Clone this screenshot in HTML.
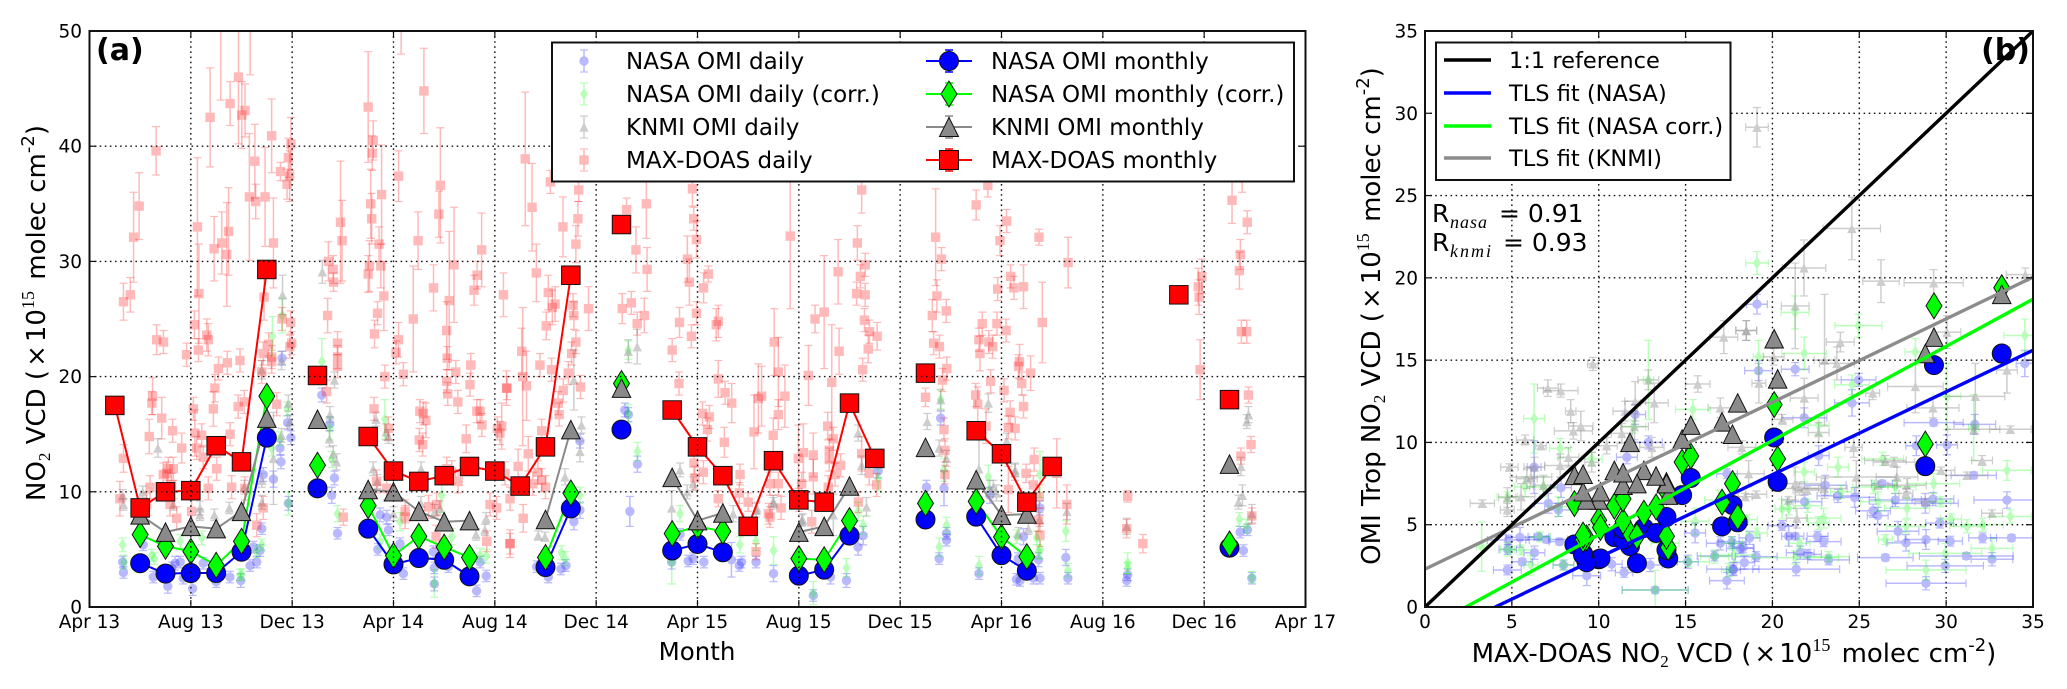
<!DOCTYPE html>
<html lang="en">
<head>
<meta charset="utf-8">
<title>NO2 VCD time series and scatter comparison</title>
<style>
html,body{margin:0;padding:0;background:#fff;}
svg{display:block;}
text{font-family:"DejaVu Sans","Liberation Sans",sans-serif;fill:#000;}
.serif{font-family:"Liberation Serif",serif;}
</style>
</head>
<body>
<svg id="figure" xmlns="http://www.w3.org/2000/svg" width="2067" height="689" viewBox="0 0 2067 689">
  <defs>
    <clipPath id="clipA"><rect x="89.5" y="31" width="1216" height="576"/></clipPath>
    <clipPath id="clipB"><rect x="1425" y="31" width="608" height="576"/></clipPath>
  </defs>
  <g id="panelA"></g>
  <g id="panelB"></g>

  <text x="96" y="60" font-size="30" font-weight="bold">(a)</text>
  <text x="2030" y="60" font-size="30" font-weight="bold" text-anchor="end">(b)</text>

  <text transform="translate(45,313) rotate(-90)" font-size="26" text-anchor="middle">NO<tspan class="serif" font-size="17" dy="5">2</tspan><tspan dy="-5"> VCD (</tspan><tspan dx="3">×</tspan><tspan dx="3">10</tspan><tspan class="serif" font-size="18" dy="-11">15</tspan><tspan dy="11" dx="3"> molec cm</tspan><tspan font-size="18" dy="-11">-2</tspan><tspan dy="11">)</tspan></text>
  <text x="697" y="660" font-size="24.5" text-anchor="middle">Month</text>
  <text transform="translate(1380,316) rotate(-90)" font-size="26" text-anchor="middle">OMI Trop NO<tspan class="serif" font-size="17" dy="5">2</tspan><tspan dy="-5"> VCD (</tspan><tspan dx="3">×</tspan><tspan dx="3">10</tspan><tspan class="serif" font-size="18" dy="-11">15</tspan><tspan dy="11" dx="3"> molec cm</tspan><tspan font-size="18" dy="-11">-2</tspan><tspan dy="11">)</tspan></text>
  <text x="1734" y="662" font-size="26" text-anchor="middle">MAX-DOAS NO<tspan class="serif" font-size="17" dy="5">2</tspan><tspan dy="-5"> VCD (</tspan><tspan dx="3">×</tspan><tspan dx="3">10</tspan><tspan class="serif" font-size="18" dy="-11">15</tspan><tspan dy="11" dx="3"> molec cm</tspan><tspan font-size="18" dy="-11">-2</tspan><tspan dy="11">)</tspan></text>

  <g>
    <text x="1432" y="222" font-size="25">R</text>
    <text class="serif" x="1450" y="228" font-size="18" font-style="italic" textLength="37">nasa</text>
    <text x="1499" y="222" font-size="25">= 0.91</text>
    <text x="1432" y="251" font-size="25">R</text>
    <text class="serif" x="1450" y="257" font-size="18" font-style="italic" textLength="41">knmi</text>
    <text x="1503" y="251" font-size="25">= 0.93</text>
  </g>

  <g id="legendA">
    <rect x="552" y="42.5" width="742" height="139" fill="#fff" stroke="#111" stroke-width="2"/>
    <g id="legendAHandles"></g>
    <g font-size="23">
      <text x="626" y="69">NASA OMI daily</text>
      <text x="626" y="102">NASA OMI daily (corr.)</text>
      <text x="626" y="135">KNMI OMI daily</text>
      <text x="626" y="168">MAX-DOAS daily</text>
      <text x="991" y="69">NASA OMI monthly</text>
      <text x="991" y="102">NASA OMI monthly (corr.)</text>
      <text x="991" y="135">KNMI OMI monthly</text>
      <text x="991" y="168">MAX-DOAS monthly</text>
    </g>
  </g>

  <g id="legendB">
    <rect x="1436" y="42.5" width="294.5" height="137.5" fill="#fff" stroke="#111" stroke-width="2"/>
    <line x1="1444" x2="1491" y1="60" y2="60" stroke="#000" stroke-width="3.4"/>
    <line x1="1444" x2="1491" y1="93" y2="93" stroke="#0000ff" stroke-width="3.4"/>
    <line x1="1444" x2="1491" y1="126" y2="126" stroke="#00ff00" stroke-width="3.4"/>
    <line x1="1444" x2="1491" y1="158" y2="158" stroke="#8c8c8c" stroke-width="3.4"/>
    <g font-size="22.5">
      <text x="1509" y="68">1:1 reference</text>
      <text x="1509" y="101">TLS fit (NASA)</text>
      <text x="1509" y="134">TLS fit (NASA corr.)</text>
      <text x="1509" y="166">TLS fit (KNMI)</text>
    </g>
  </g>
</svg>

<script>
// ---------- shared axis ticks ----------
const monthTicks = [0, 4, 8, 12, 16, 20, 24, 28, 32, 36, 40, 44, 48];
const monthTickLabels = ["Apr 13", "Aug 13", "Dec 13", "Apr 14", "Aug 14", "Dec 14", "Apr 15", "Aug 15", "Dec 15", "Apr 16", "Aug 16", "Dec 16", "Apr 17"];
const vcdTicksA = [0, 10, 20, 30, 40, 50];
const vcdTicksB = [0, 5, 10, 15, 20, 25, 30, 35];

// ---------- monthly means; months counted from Apr 2013 ----------
const months = [1,2,3,4,5,6,7,8,9,10,11,12,13,14,15,16,17,18,19,20,21,22,23,24,25,26,27,28,29,30,31,32,33,34,35,36,37,38,39,40,41,42,43,44,45];
const maxdoasMonthly = [17.5,8.6,10.0,10.1,14.0,12.6,29.3,null,20.1,null,14.8,11.8,10.9,11.4,12.2,11.8,10.5,13.9,28.8,null,33.2,null,17.1,13.9,11.4,7.0,12.7,9.3,9.1,17.7,12.9,null,20.3,null,15.3,13.3,9.1,12.2,null,null,null,null,27.1,null,18.0];
const nasaMonthly = [null,3.8,2.9,2.95,2.95,4.8,14.7,null,10.3,null,6.8,3.7,4.25,4.1,2.66,null,null,3.47,8.56,null,15.4,null,4.9,5.47,4.75,null,null,2.72,3.24,6.2,null,null,7.6,null,7.84,4.5,3.15,null,null,null,null,null,null,null,5.15];
const nasaCorrMonthly = [null,6.28,5.27,4.83,3.62,5.7,18.3,null,12.3,null,8.8,4.46,6.13,5.2,4.3,null,null,4.3,9.9,null,19.4,null,6.37,7.0,6.57,null,null,4.2,4.1,7.5,null,null,9.0,null,9.17,6.08,4.37,null,null,null,null,null,null,null,5.47];
const knmiMonthly = [null,8.0,6.5,7.0,6.8,8.3,16.4,null,16.3,null,10.2,10.0,8.3,7.4,7.5,null,null,7.6,15.4,null,19.0,null,11.25,7.5,8.16,null,null,6.5,7.0,10.5,null,null,13.86,null,11.05,7.96,8.07,null,null,null,null,null,null,null,12.4];

// ---------- daily values, panel a: [month, value, error] ----------
const maxdoasDaily = [
[1.34,26.5,1.6],[1.61,27.1,1.5],[1.74,32.1,3.9],[1.96,34.8,2.9],[2.63,39.6,2.1],[4.76,42.5,4.3],[5.55,43.7,1.9],[5.88,46.0,5.8],[6.01,42.7,2.9],[6.14,43.1,2.3],[6.53,38.7,3.2],[7.19,40.9,3.2],[7.95,40.2,2.3],[7.85,39.0,1.7],[7.54,37.8,0.8],[7.9,37.4,2.2],[7.8,36.7,1.3],[5.18,53,9],[6.34,53,6.8],[6.31,35.6,5.5],[6.56,35.2,1.5],[6.93,35.6,4.3],[4.26,33.0,6],[5.49,32.6,3.8],[5.22,31.6,2.7],[4.92,31.1,2.8],[5.42,30.6,4.5],[7.26,31.6,3.9],[4.32,27.2,4.3],[4.14,24.5,1.2],[4.63,23.6,1.4],[4.69,23.2,1.4],[2.65,23.2,1.3],[2.92,23.0,1],[6.89,26.9,2],[7.6,25,1],[7.94,24.7,1],[7.98,22.9,1],[7.07,22.8,1],
[9.43,30,1.7],[9.62,29.3,1.2],[9.63,28.2,0.8],[9.4,25.3,1.5],[9.91,33.4,5.3],[9.97,31.8,3.5],[9.79,22.9,1],[11.0,43.4,4.8],[11.2,40.5,1.7],[11.16,39.4,1.5],[11.1,35.0,3],[11.14,33.7,2.2],[11.53,35.8,4.3],[11.43,31.5,1.5],[11.5,29.6,1.9],[11.05,29.6,2.2],[11.0,28.9,1.6],[11.62,27,3],[11.37,25.5,1],[11.25,23.7,1.2],
[12.2,37.4,2.2],[12.3,53,5],[13.2,44.8,3.7],[13.85,36.6,5],[13.79,34.1,2],[12.97,31.8,2.5],[15.48,31,3.2],[15.3,28.8,1.2],[15.18,27.5,1.3],[14.39,29.7,5],[14.2,26.6,6],[13.58,27.7,2],[12.78,25,4.6],[12.2,23.2,1.5],[16.34,27.1,1.9],
[17.2,38.9,5.8],[17.47,34.7,3.8],[18.19,36.9,1],[17.64,29,2.5],[18.69,33,2.6],[19.31,36.2,1],[19.28,33.7,1.5],[19.2,31.5,1.6],[18.11,27.3,1.5],[18.38,26.3,1.5],[18.27,26,1.5],[18.03,24.4,1.2],[19.09,26.2,1],[19.12,25.3,1.2],[19.7,25.9,1.9],[19.2,23,1],[17.1,20,6],[14.1,24,2.5],
[21.2,34.5,1],[21.98,35,3],[21.57,31,2],[21.39,26.4,1],[22.01,29.3,1.9],[21.03,25.9,1.3],[21.9,25.3,1.5],[21.62,24.6,1],
[23.8,36.3,1.5],[23.85,33.7,1],[23.96,31.9,1.6],[23.6,30.2,2],[23.68,28.2,2],[24.43,28.9,0.7],[24.24,27.7,1.3],[23.96,25.5,1],[23.29,24.7,1.3],[24.82,24.8,1.4],[24.74,24.5,1.4],[23.76,23.5,1],[27.66,32.2,6.3],[27.03,23,2.9],
[28.64,25,1.2],[29,25.6,4.9],[29.55,29.1,2.8],[30.31,31.6,1.5],[30.48,36.2,2],[30.62,29.7,1],[30.43,28.7,1],[30.28,27.2,1],[30.62,27.1,1],[30.59,24.9,1],[30.79,23.9,1],[31.09,23.5,1.2],
[33.4,32.1,4.2],[33.63,30.2,1],[33.45,27,1.4],[33.27,25.3,1.4],[33.82,25.7,1],[33.32,22.9,1],[35,34.9,1.3],[35.46,36.6,1],[36.2,33.5,1],[35.94,31.8,1.3],[36.36,28.7,1],[35.85,27.6,1],[36.49,27.7,1],[35.24,24.6,1],[35.82,24.6,1],[36.18,24,1],[35.11,23.2,1],[35.5,23,1],
[36.87,27.8,1.9],[37.61,24.7,3.5],[38.63,29.9,2.2],[37.48,32.1,0.7],[45.1,35.3,2],[45.5,40,4],[45.7,33.4,1],[45.43,30.6,1.3],[45.39,29.2,1.6],[43.91,28.7,1.5],[43.77,27.8,1.6],[43.8,26.9,1.5],[45.47,23.9,1],[45.68,23.9,1],
[24.82,19.8,1.6],[25.09,18.6,1],[25.35,17.7,1.7],[24.2,16.8,1],[24.47,16.5,1],[24.39,15.4,1],[25.06,14.3,1.3],[23.86,12.5,1],[24.23,11.7,1],[23.9,11.2,1],[25.68,11.5,0.9],[25.65,9.9,0.9],[24.82,9.4,0.7],[26,9.1,0.8],[26.31,4.8,0.7],[26.53,18.3,2.6],[26.4,18.1,3],[26.23,15.2,3.2],[27.19,20.4,3],[27.45,18.3,2.7],[27.19,16.7,1.3],[26.99,14.9,1.5],[26.8,8.1,0.9],[26.86,7.8,0.9],[26.86,10.7,1],[27.19,10.7,1],[27.3,8.6,1],[28.38,20.1,2.6],[27.98,12.9,2.9],[28.18,13.4,2.5],[28.57,13.2,1.9],[28.57,11.3,1.5],[28.11,10.7,1],[28,9.3,1],[28.51,7.4,1],[29.59,22.2,2],[29.3,19.5,5],[29.14,15.7,1.2],[29.36,14.6,1],[29.2,13.6,1],[29.2,12.8,1],[29.65,12.3,1],[29.16,10.4,1],[29.43,11.5,1],[30.74,22.4,1.2],[30.52,20.6,1],[30.48,13.3,1.5],[30.78,11.6,1],[31.07,10.6,1],[30.35,9.1,0.9],
[33.55,22.6,1],[33.84,20.7,1],[33.67,19.7,1],[33,18.2,0.8],[33.73,15.4,1],[33.77,13.6,1],[33.77,11.5,0.8],[35.65,22.6,1],[35.15,22,1.5],[35.57,19.6,1],[34.98,18.4,1],[35.06,17.6,1.5],[35.39,15.7,1.5],
[36.71,21.3,1.5],[36.67,20.9,1],[37.15,20.3,1.5],[36.8,19.4,1],[36.1,18.8,1],[36.87,17.4,1],[36.34,16.9,1],[36.27,15.6,1],[36.54,15.5,1],[37.29,12.8,1],[36.97,11.6,0.8],[37.26,10.6,0.8],[38.18,11.6,3],[36.27,10.2,2],[38.58,8.9,1.7],[37.49,9.6,1],[37.52,6.25,1],[37.46,7.55,1],[40.98,9.6,0.5],[40.94,6.8,0.8],[41.58,5.5,0.8],[43.84,20.6,2.6],[45.75,18.4,0.7],[45.85,14.1,0.7],[45.45,13.1,0.7],[45.88,7.9,0.7],
[17.06,22.2,2],[17.78,21,1],[18.24,20.6,1],[16.46,19,1.5],[17.25,19.2,3],[19.03,22,1],[18.9,20.3,1],[18.7,18.8,1],[18.5,17.7,1],[18.54,16.7,1],[16.27,15.7,2],[17.85,15.3,1],[19.38,19.1,1],[17.32,13.3,1.5],[16.92,12.2,1.5],[16.4,11.6,1],[17.7,11.7,1],[17.5,10.7,1],[17.85,11,1],[18,10.4,1],[16.6,9.4,1],[17.12,7.7,1.2],[16.6,5.5,1.2],[23,22.3,1],[23.27,19.4,1],
[1.2,9.4,1.5],[1.34,12.9,1.2],[2.49,18.3,1.6],[2.46,17.7,1],[2.36,14.8,1.5],[2.85,16.4,1.8],[3.28,15.3,1],[3.83,21.9,1],[3.64,13.8,1.3],[4.3,22.3,1],[4.1,17.2,1],[4.16,15.1,2],[4.43,14.9,1],[4.49,13,1],[4.23,13.8,1],[4.89,17.2,1.5],[4.95,19,1.2],[5.09,20.7,1],[5.44,21.2,1],[5.94,21.4,1],[5.55,15,1],[5.87,17.4,1],[6.11,17.8,1],[5.02,12,1],[3.11,12,1],[3.31,12,1],[2.91,11.5,1],[3.05,11.6,1],[3.24,10.6,1],[2.39,10.4,1],[2.26,8.9,1],[3.18,8.9,1],[3.44,7.7,1],[4.03,8.3,1],[4.69,10.3,1],[5.61,10.4,1],[6.13,10.3,1],[6.6,7.1,1],[6.86,8.6,1],[6.8,20.4,1],[6.86,22,1],[7.19,21.7,1],[7.39,17.6,1],[7.19,21.3,1],[7.91,22.6,1],
[9.79,21.7,1],[9.79,20.9,1],[9.36,18.7,1],[10.02,7.8,0.7],[11.8,15.5,1],[11.66,20,1],[11.23,17.2,1],[12.1,22.1,1],[12.39,20.2,1],[12.46,7.8,1],[13.04,17,1],[13.18,16.8,1],[13.28,16.2,1.5],[13.02,14.5,1],[13.15,14.1,1],[14.12,21.6,1],[14.1,19.6,1],[14.14,18.5,1],[14.46,20.4,1],[14.54,17.8,1],[15.05,21,1],[15.02,19.3,1],[14.87,14.6,1.2],[15.29,17,1],[15.42,17,1],[15.49,15.8,1],[16.1,15.5,1],[16.48,19,1],[16.2,15.1,1],[15.81,8.9,1],[16.07,8.6,1],[15.68,5.7,0.9],[16.6,5.5,0.9],[13.68,6.1,1],[14.3,11.7,1],[14.55,10.9,1],[14.1,12,1],[13.7,8.9,1],[13.38,8.7,1],[12.46,8.3,1],[11.73,10.3,1],[11.33,10.9,1]
];
const nasaDaily = [
[1.34,3,0.5],[1.31,3.9,0.5],[3.09,1.8,0.6],[3.38,3.8,0.6],[3.58,3.9,0.5],[3.25,3.4,0.5],[4.07,1.6,0.6],[2.52,2.6,0.5],[2.12,5.4,0.5],[3.7,2.5,0.5],[4.49,3.8,0.5],[5,2.2,0.5],[5.54,2.6,0.5],[5.97,2.3,0.6],[6.34,3.6,0.5],[6.6,3.9,0.5],[6.73,4.9,0.5],[6.8,6.8,0.5],[6.47,5.2,0.5],[6.86,11.5,0.6],[7.26,11.1,0.7],[7.56,12.6,0.6],[7.52,13.8,0.6],[7.6,21.6,0.6],[7.82,16,0.6],[7.95,14.7,0.6],[7.85,9,0.6],
[9.17,18.4,0.6],[9.49,15.9,0.6],[9.56,9.7,0.7],[9.67,11.2,0.6],[9.79,6.4,0.5],[11.38,5,0.5],[11.47,8,0.6],[11.8,6.7,0.5],[11.73,7.8,0.6],[12.39,2.9,0.5],[12.26,5.5,0.5],[13.61,3.4,0.5],[13.61,2,0.6],[13.57,4.8,0.5],[14.16,3.5,0.5],[15.28,1.4,0.5],[15.42,3.9,0.5],[15.66,2.7,0.5],
[17.65,3.5,0.5],[18.11,2.6,0.5],[18.61,3.3,0.5],[18.81,3.6,0.5],[19.12,7.4,0.7],[19.36,8.4,0.7],[19.36,14.4,0.6],[21.13,17.1,0.6],[21.27,16.7,0.6],[21.63,12.4,0.7],[21.33,8.3,1.3],
[22.98,3.9,0.6],[23.31,6.3,0.5],[23.63,4,0.5],[23.83,4.2,0.5],[24.25,3.9,0.5],[25.34,4.1,1.5],[25.65,3.6,0.5],[25.74,3.9,0.5],[26.31,3.9,0.5],[27,2.9,0.7],[29.25,2.6,0.6],[29.88,2.3,0.6],[28.57,1,0.5],[30.34,5.2,0.7],[30.54,6.2,0.8],[31.13,11.8,0.6],
[33.04,10.4,0.6],[33.6,16.4,0.6],[33.73,10.3,1.5],[33.83,6.4,0.5],[33.83,5.8,0.5],[33.54,4.2,0.5],[35.11,2.9,0.5],[35.54,9.7,0.7],[36.59,2.4,0.5],[36.66,4.2,0.5],
[37.52,8.6,0.6],[37.46,4.1,0.6],[36.73,2.3,0.5],[37.26,2.5,0.5],[37.52,2.5,0.5],[36.87,6.1,0.7],[38.54,4.3,0.7],[38.62,2.5,0.5],[40.98,2.8,0.5],[40.94,2.3,0.5],[45.42,6.5,0.5],[45.55,4.9,0.5],[45.71,6.7,0.5],[45.88,2.5,0.5]
];
const nasaCorrDaily = [
[1.31,5.4,0.6],[1.36,3.9,0.6],[2.46,4.5,0.5],[2.56,4.2,0.5],[3.58,5.7,0.6],[4.43,6,0.6],[5.94,2.8,0.5],[6.01,2.8,0.5],[6.6,4.8,0.5],[6.8,5.4,0.5],[7.19,13.8,0.7],[7.22,23.5,1.7],[7.61,25.3,1.5],[7.81,17.2,0.6],[7.85,9,1],[7.52,14.6,0.6],
[9.17,21.3,2],[9.49,15.5,1],[9.56,12.8,0.7],[9.79,8.1,0.7],[11.66,16.3,1.7],[12.26,7.4,0.8],[11.47,5.7,0.6],[13.61,2.05,1.2],[13.9,9.7,1.5],[14.3,6.1,0.7],[15.42,4.5,0.6],[15.66,4.4,0.6],
[18.63,4.7,0.6],[18.77,4.2,0.6],[19.36,9.7,0.7],[21.27,16.8,0.8],[21.27,22.3,0.8],[21.63,13.5,0.8],[22.98,3.9,1.9],[23.31,8.1,0.7],[25.67,5.4,0.7],[26.31,5.7,0.8],[27,4.9,1.2],[29.88,3.4,0.8],[28.57,1.2,1],[30.34,8.3,0.8],[30.54,7.1,0.8],[31.13,11.2,1.1],
[33.6,18,0.8],[33.73,11.9,1],[33.83,7.1,0.7],[33.54,5.2,0.8],[35.11,3.6,0.8],[35.48,11.3,1],
[37.52,11.5,2],[37.52,5,0.8],[38.54,6.6,0.9],[38.62,3.2,0.6],[40.98,3.8,0.9],[40.98,3.4,0.5],[45.39,7.6,0.6],[45.68,7,0.6],[45.88,2.6,0.5],[37.39,6,0.6],[36.6,6.1,0.6],[37.46,4.8,0.6]
];
const knmiDaily = [
[1.34,8.9,0.5],[1.31,9.7,0.5],[2.1,10,0.5],[2.7,13.8,0.8],[3.31,8.9,0.5],[4.36,8.6,0.6],[4.36,8,0.5],[4.93,8,0.5],[5.52,8.6,0.5],[6.11,10.4,0.6],[6.8,9.1,0.6],[6.8,11,0.6],[6.8,20.6,0.8],[7.26,12.9,4],[7.58,14.9,0.6],[7.58,21.4,0.8],[7.62,27.1,1.7],[7.91,16.1,0.6],[7.85,17.7,0.7],[9.67,19.7,0.7],[9.19,29.1,1],[9.49,16.7,0.7],[9.47,14.6,0.7],[9.62,13.3,0.7],[9.75,12.6,0.7],[11.31,16.3,0.6],[11.2,12,0.6],[11.36,10.9,0.6],[11.71,15.2,0.7],[11.8,14.8,0.6],[12,8.1,0.6],[13.09,12,0.6],[13.08,9,0.6],[13.63,8.3,0.6],[13.83,8.6,0.6],[15.26,6.3,0.5],[15.61,6.7,0.5],[15.66,7.7,0.5],
[19.12,19.7,2.6],[19.42,15.8,0.7],[19.36,13.5,0.9],[18.77,11.3,0.7],[17.71,6.2,0.4],[17.98,6.1,0.4],[21.27,22.2,1],[21.62,22.6,1.5],[23.31,11.9,0.6],[22.98,8.6,1.5],[23.83,10.7,0.6],[23.59,10,0.6],[25.41,8.1,0.7],[26.31,8.4,0.6],[27,9,0.5],[28.11,7.5,0.5],[29.36,8,1.8],[30.34,15.1,0.7],[30.48,12.3,0.8],[30.67,8.7,0.8],
[33.07,16.1,0.7],[33.6,18,0.9],[33.83,12.9,0.7],[33.54,13.8,0.7],[35.48,17.7,0.8],[35.11,12,2.5],[35.54,10.3,0.7],[35.8,9.9,0.7],[36.53,11.7,0.7],
[26.99,9.2,0.5],[26.34,8.6,0.5],[28.15,7.6,0.5],[36.2,14.4,0.7],[36.54,11.9,0.6],[35.68,10.4,0.6],[37.06,6.8,0.5],[36.67,6.4,0.5],[37.5,7.6,0.6],[38.58,8.3,0.7],[40.94,7,0.7],[45.75,16.7,0.7],[45.68,16.1,0.6],[45.45,12.2,0.8],[45.51,9.7,0.9],[45.35,9.1,0.6],[45.88,8.1,0.8]
];

// ---------- daily scatter, panel b: [maxdoas, omi, xError, yError] ----------
const knmiScatter = [
[26.25,19.8,1.05,1.3],[29.28,19.7,1.7,0.8],[34.56,20.2,1.1,0.4],[21.31,18.3,0.8,2.6],[18.49,16.8,0.6,0.6],[23.91,16.1,0.8,0.6],[23.71,14.8,1,1],[23,15,0.6,4],[20.07,15.2,0.6,0.5],[19.22,13.6,0.4,1.2],[21.83,12.7,0.8,1.2],[25.77,13,0.4,0.4],[28.23,13.4,1.6,1.6],[30.05,16.7,0.8,1],[31.68,12.8,1.7,2],[33.5,14.4,0.6,1.4],[29.24,12.1,1.5,0.6],[22.66,10.6,0.6,0.6],[33.7,10.8,1.2,0.2],[31.59,10.8,1.5,0.3],[20.58,11.4,0.6,0.3],[24.67,9.7,0.5,0.6],[26.5,8.9,1.2,0.3],[27,8.8,1.2,0.3],[32.07,8.9,0.6,0.3],[24.83,7.9,2.3,1],[18.63,8.1,0.9,0.8],[27.17,7.9,1.2,0.6],[29.7,8.3,0.8,0.2],[31.2,8,1.2,0.2],[27.75,7.4,1.1,0.4],[26.08,7.4,1.1,0.2],[21.31,7.5,1.5,1],[21.56,7.2,1.1,0.4],[21.99,7.1,0.8,0.2],[23,7.2,1.3,0.6],[19.07,6.85,0.6,0.2],[20.93,6.5,0.4,0.2],[27.69,6.9,0.4,0.3],[28.8,6.4,0.6,0.2],[32.64,5.7,0.6,0.2],[21.41,5.4,0.6,0.6],[18.43,6.7,0.4,0.2],
[19.11,29.15,0.65,1.2],[24.57,23,1.65,1.9],[21.82,20.6,1.25,1.7],[17.2,16.4,0.8,1],[18.5,16.8,0.6,0.6],
[9.66,14.77,0.3,0.4],[7.07,13.3,0.6,0.5],[7.81,13.15,1,0.4],[8.39,11.9,0.3,0.7],[8.54,10.7,1.1,0.5],[8.97,11,0.7,0.9],[5.76,10.15,0.5,0.3],[6.68,9.8,0.3,0.2],[8.26,9.1,0.6,0.6],[4.86,8.5,0.5,0.2],[7.78,8.6,0.9,0.7],[6.3,8.5,0.6,0.6],[6.1,7.9,1.2,0.6],[5.86,7.8,0.6,0.6],[6.82,7.4,0.6,0.6],[5.53,6.7,0.8,0.8],[4.74,6.65,0.5,0.6],[3.3,6.3,0.7,0.2],[4.74,5.9,0.4,0.4],[9.6,8.8,0.4,0.6],[12.1,12.5,0.6,1.2],[11.52,11.9,0.7,0.6],[13.2,12.4,0.8,1.2],[12.86,13.8,0.6,0.6],[15.7,13.55,0.7,0.5],[11.33,10.55,0.6,0.6],[12.06,10.96,0.8,0.8],[10.46,9.8,0.6,0.5],[13.06,9.7,0.7,0.6],[17,12.1,0.7,0.6],[18.24,9.7,0.8,0.4]
];
const nasaScatter = [
[19.11,18.4,0.6,0.6],[21.31,14.45,0.8,0.4],[19.2,14.36,0.8,0.6],[24.96,13.8,1,0.4],[24.58,12.4,1,0.8],[21.83,11.5,1.3,0.6],[22.66,9.2,0.6,0.6],[29.28,11.2,1.7,0.2],[31.65,11.1,1.2,0.6],[34.53,14.8,0.5,0.8],[28.28,9.8,0.6,0.6],[30.05,9.85,0.6,0.6],[23.04,7.4,1.2,0.6],[21.85,6.4,1,0.4],[23.77,6.75,1.2,0.4],[24.73,6.66,1.2,0.6],[26.31,7.5,0.6,0.2],[27.07,6.5,1.5,0.4],[28.8,6.3,1.9,0.6],[29.24,6.56,1.2,0.4],[31.59,8,1.3,0.2],[33.5,6.5,1.9,0.5],[25.79,5.85,1,0.4],[26.06,5.55,0.6,0.5],[20.55,4.95,0.8,0.3],[27.23,4.6,1.2,0.6],[29.63,5.1,0.8,0.3],[28.84,4.1,1.2,0.6],[27.69,3.9,1.1,0.5],[30.24,4,0.7,0.3],[32.1,4.2,0.8,0.3],[33.76,4.2,1.2,0.2],[20.93,4.3,0.4,0.6],[21.31,4.3,0.5,0.2],[22.6,4.3,0.6,0.3],[22.95,3.97,1,0.3],[21.6,3.3,0.8,0.4],[22.02,3.2,0.8,0.3],[23.23,2.86,1.2,0.3],[26.5,3,1.6,0.2],[31.16,3.1,2.7,0.2],[32.64,2.9,1.2,0.4],[29.95,2.5,2.2,0.4],[21.37,2.3,2.5,0.4],[28.84,1.44,2.3,0.4],[19.07,3.06,1.2,0.3],[18.38,2.7,0.6,0.4],[18.3,3.6,0.6,0.3],[17.72,2.3,1.5,0.4],[18.68,4.2,0.6,0.4],
[6.28,8.5,0.4,1.6],[12.1,11.7,0.6,0.6],[11.62,9.1,0.6,0.4],[12.86,10,0.8,0.4],[7.83,7.25,0.6,0.6],[7.1,6.3,0.8,0.6],[7.68,5.9,0.8,0.4],[4.8,4.07,1.2,0.3],[5.47,4.23,0.8,0.6],[6.53,4.27,0.6,0.2],[7,4.1,1.2,0.2],[7.74,3.97,0.6,0.2],[4.76,3.5,0.5,0.3],[6.3,3.3,0.6,0.4],[5.6,2.75,0.6,0.2],[4.74,2.25,0.8,0.3],[7.97,2.55,0.6,0.3],[9.31,1.9,0.8,0.6],[10.75,2.6,0.6,0.4],[11.46,2.1,0.5,0.3],[12.96,2.55,0.7,0.4],[15.13,2.75,0.6,0.4],[17.38,1.6,1,0.5],[16.67,3.1,1,0.3],[17,3.87,0.8,0.4],[17.67,3.97,0.8,0.3],[15.55,4.5,0.6,0.6],[18.15,3.56,0.8,0.3],[17.76,2.25,0.4,0.3],[13.25,1.03,1.9,0.2],[17.38,8.1,0.6,0.3]
];
const nasaCorrScatter = [
[19.11,20.9,0.65,0.7],[21.3,17.9,0.8,1],[24.95,17.1,1.35,0.7],[21.83,15.4,1.3,1],[19.2,15.2,0.3,1],[24.58,13.5,1,0.6],[28.23,15.5,0.6,0.8],[31.59,10.9,0.3,2],[34.53,16.5,1.2,1],[22.66,11.05,0.6,0.6],[30.05,12.8,0.8,2],[23.77,8.5,0.6,0.6],[21.83,8.2,0.6,0.6],[26.35,9,1.2,0.4],[33.5,8.3,1.4,0.6],[29.28,7.5,1.5,0.6],[27.07,7.3,1.2,0.4],[25.83,7.3,1.2,0.4],[23.95,7,0.6,0.4],[26.08,6.4,1,0.6],[27.75,6,1.3,0.6],[29.67,6.4,0.6,0.3],[20.55,5.95,0.4,0.6],[20.93,6,0.4,0.4],[22.02,6.15,0.8,0.4],[22.95,5.4,1,0.6],[22.66,5.1,0.6,0.4],[30.28,5.35,0.6,0.3],[31.2,4.9,1,0.4],[32.1,5,1.2,0.4],[33.7,5.5,1.2,0.4],[27.69,4.9,1.1,0.4],[26.5,4.1,0.4,0.3],[21.56,3.87,0.6,0.3],[21.31,3,2.5,0.4],[32.64,3.56,1.2,0.6],[29.95,3.26,2.1,0.6],[23.23,3.06,1.2,0.3],[28.84,2.25,2.3,0.6],[19.1,4.5,0.6,0.3],[18.53,5.3,0.6,0.3],[17.8,3.16,1.2,0.4],
[6.28,11.45,0.6,2.1],[12.86,13.8,0.3,2.4],[15.42,12,1,0.6],[7.78,9.64,0.6,0.6],[12,10.96,0.7,0.4],[9.6,9,0.6,0.4],[6.82,7.3,0.8,0.6],[5.76,7.3,0.6,0.6],[4.74,6.7,0.6,0.3],[7.68,6.1,0.6,0.6],[3.26,3.67,0.3,1.5],[4.74,3.5,0.4,0.4],[5.53,3.46,0.6,0.3],[6.62,4.27,0.6,0.3],[6.1,2.55,0.4,0.6],[7.97,2.55,0.6,0.3],[9.6,4.9,0.6,0.3],[13.25,1.03,1.9,1.2],[15.17,2.75,1.2,0.3],[15.55,5.2,0.8,0.8],[16.67,3.06,0.8,0.4],[16.9,6.5,0.8,0.6],[17.67,3.87,0.6,0.4],[11.52,4.07,0.6,0.4],[13.82,3.87,0.8,0.4],[17.47,2.25,0.4,0.4]
];

// ---------- TLS fits, panel b: y = slope * x + intercept ----------
const fitNames = ["reference", "tls-nasa", "tls-nasa-corr", "tls-knmi"];
const fitSlopes = [1, 0.504, 0.573, 0.507];
const fitIntercepts = [0, -2.04, -1.35, 2.3];

// ---------- axis functions ----------
const xA = m => 89.5 + m * (1216 / 48);
const yA = v => 607 - v * (576 / 50);
const xB = v => 1425 + v * (608 / 35);
const yB = v => 607 - v * (576 / 35);

const NS = "http://www.w3.org/2000/svg";
const BLUE = "#0000ff", GREEN = "#00ff00", GRAY = "#8a8a8a", RED = "#ff0000";
const panelA = document.getElementById("panelA");
const panelB = document.getElementById("panelB");
const legendHandles = document.getElementById("legendAHandles");

function make(tag, parent) {
  const el = document.createElementNS(NS, tag);
  parent.appendChild(el);
  return el;
}
function segment(parent, x1, y1, x2, y2, color, width) {
  const el = make("line", parent);
  el.setAttribute("x1", x1); el.setAttribute("y1", y1);
  el.setAttribute("x2", x2); el.setAttribute("y2", y2);
  el.setAttribute("stroke", color); el.setAttribute("stroke-width", width);
  return el;
}
function marker(parent, kind, cx, cy, s, fill, edge) {
  let el;
  if (kind === "circle") {
    el = make("circle", parent);
    el.setAttribute("cx", cx); el.setAttribute("cy", cy); el.setAttribute("r", s / 2);
  } else if (kind === "square") {
    el = make("rect", parent);
    el.setAttribute("x", cx - s / 2); el.setAttribute("y", cy - s / 2);
    el.setAttribute("width", s); el.setAttribute("height", s);
  } else if (kind === "diamond") {
    el = make("polygon", parent);
    const w = s * 0.42, h = s * 0.68;
    el.setAttribute("points", `${cx},${cy - h} ${cx + w},${cy} ${cx},${cy + h} ${cx - w},${cy}`);
  } else {
    el = make("polygon", parent);
    const w = s * 0.5, h = s * 0.5;
    el.setAttribute("points", `${cx},${cy - h} ${cx + w},${cy + h} ${cx - w},${cy + h}`);
  }
  el.setAttribute("fill", fill);
  if (edge) { el.setAttribute("stroke", edge); el.setAttribute("stroke-width", 1); }
  return el;
}
function errorGlyph(parent, kind, color, px, py, hx, hy) {
  const g = make("g", parent);
  g.setAttribute("opacity", kind === "triangle" ? "0.42" : "0.27");
  if (hy > 0) {
    segment(g, px, py - hy, px, py + hy, color, 1.5);
    segment(g, px - 4, py - hy, px + 4, py - hy, color, 1.2);
    segment(g, px - 4, py + hy, px + 4, py + hy, color, 1.2);
  }
  if (hx > 0) {
    segment(g, px - hx, py, px + hx, py, color, 1.5);
    segment(g, px - hx, py - 4, px - hx, py + 4, color, 1.2);
    segment(g, px + hx, py - 4, px + hx, py + 4, color, 1.2);
  }
  marker(g, kind, px, py, 9.4, color, null);
  return g;
}
function seriesLine(parent, xs, ys, xf, yf, color) {
  let d = "", open = false;
  xs.forEach((x, i) => {
    const v = ys[i];
    if (v === null) { open = false; return; }
    d += (open ? "L" : "M") + xf(x) + " " + yf(v) + " ";
    open = true;
  });
  const p = make("path", parent);
  p.setAttribute("d", d);
  p.setAttribute("fill", "none");
  p.setAttribute("stroke", color);
  p.setAttribute("stroke-width", 2);
  return p;
}
function gridAndTicks(parent, left, right, top, bottom, xTicks, yTicks, xf, yf, showGrid) {
  const grid = make("g", parent);
  
  
  if (showGrid) {
    xTicks.forEach(t => {
      const gl = segment(grid, xf(t), top, xf(t), bottom, "#111", 1.4);
      gl.setAttribute("stroke-dasharray", "1.6 3.5");
    });
    yTicks.forEach(t => {
      const gl = segment(grid, left, yf(t), right, yf(t), "#111", 1.4);
      gl.setAttribute("stroke-dasharray", "1.6 3.5");
    });
  }
  return grid;
}
function frame(parent, left, right, top, bottom, xTicks, yTicks, xf, yf) {
  const ticks = make("g", parent);
  
  
  xTicks.forEach(t => {
    segment(ticks, xf(t), bottom, xf(t), bottom - 7, "#111", 1.2);
    segment(ticks, xf(t), top, xf(t), top + 7, "#111", 1.2);
  });
  yTicks.forEach(t => {
    segment(ticks, left, yf(t), left + 7, yf(t), "#111", 1.2);
    segment(ticks, right, yf(t), right - 7, yf(t), "#111", 1.2);
  });
  const box = make("rect", parent);
  
  
  box.setAttribute("x", left); box.setAttribute("y", top);
  box.setAttribute("width", right - left); box.setAttribute("height", bottom - top);
  box.setAttribute("fill", "none"); box.setAttribute("stroke", "#111"); box.setAttribute("stroke-width", 2);
}
function tickText(parent, x, y, anchor, str) {
  const t = make("text", parent);
  t.setAttribute("x", x); t.setAttribute("y", y);
  t.setAttribute("text-anchor", anchor);
  t.setAttribute("font-size", "18.5");
  t.textContent = str;
  return t;
}

// ---------- panel a ----------
const plotA = make("g", panelA);
plotA.setAttribute("clip-path", "url(#clipA)");



const dailyLayers = [
  [nasaDaily, "circle", BLUE, "nasa-daily-point"],
  [nasaCorrDaily, "diamond", GREEN, "nasa-corr-daily-point"],
  [knmiDaily, "triangle", GRAY, "knmi-daily-point"],
  [maxdoasDaily, "square", RED, "maxdoas-daily-point"]
];
dailyLayers.forEach(layer => {
  layer[0].forEach(pt => {
    const px = xA(pt[0]), py = yA(pt[1]), hy = pt[2] * (576 / 50);
    const g = errorGlyph(plotA, layer[1], layer[2], px, py, 0, hy);
    
    
  });
});

const monthlyLayers = [
  [nasaMonthly, "circle", BLUE, 19, "nasa-monthly"],
  [nasaCorrMonthly, "diamond", GREEN, 19, "nasa-corr-monthly"],
  [knmiMonthly, "triangle", GRAY, 18.5, "knmi-monthly"],
  [maxdoasMonthly, "square", RED, 18.5, "maxdoas-monthly"]
];
monthlyLayers.forEach(layer => {
  const line = seriesLine(plotA, months, layer[0], xA, yA, layer[2]);
  
  
});
monthlyLayers.forEach(layer => {
  months.forEach((m, i) => {
    const v = layer[0][i];
    if (v === null) return;
    const mk = marker(plotA, layer[1], xA(m), yA(v), layer[3], layer[2], "#111");
    
    
  });
});

gridAndTicks(panelA, 89.5, 1305.5, 31, 607, monthTicks, vcdTicksA, xA, yA, true);
frame(panelA, 89.5, 1305.5, 31, 607, monthTicks, vcdTicksA, xA, yA);

monthTicks.forEach((t, i) => {
  const lb = tickText(panelA, xA(t), 628, "middle", monthTickLabels[i]);
  
  
});
vcdTicksA.forEach(t => {
  const lb = tickText(panelA, 82, yA(t) + 6.5, "end", String(t));
  
  
});

// ---------- panel b ----------
const plotB = make("g", panelB);
plotB.setAttribute("clip-path", "url(#clipB)");



const scatterLayers = [
  [nasaScatter, "circle", BLUE, "nasa-scatter-point"],
  [nasaCorrScatter, "diamond", GREEN, "nasa-corr-scatter-point"],
  [knmiScatter, "triangle", GRAY, "knmi-scatter-point"]
];
scatterLayers.forEach(layer => {
  layer[0].forEach(pt => {
    const hx = pt[2] * (608 / 35), hy = pt[3] * (576 / 35);
    const g = errorGlyph(plotB, layer[1], layer[2], xB(pt[0]), yB(pt[1]), hx, hy);
    
    
  });
});

gridAndTicks(plotB, 1425, 2033, 31, 607, vcdTicksB, vcdTicksB, xB, yB, true);

[[nasaMonthly, "circle", BLUE, 19, "nasa-monthly-scatter"],
 [nasaCorrMonthly, "diamond", GREEN, 19, "nasa-corr-monthly-scatter"],
 [knmiMonthly, "triangle", GRAY, 18.5, "knmi-monthly-scatter"]].forEach(layer => {
  months.forEach((m, i) => {
    const xv = maxdoasMonthly[i], yv = layer[0][i];
    if (xv === null || yv === null) return;
    const mk = marker(plotB, layer[1], xB(xv), yB(yv), layer[3], layer[2], "#111");
    
    
  });
});

const fitColors = ["#000000", BLUE, GREEN, "#8c8c8c"];
[1, 2, 3, 0].forEach(i => {
  const fit = segment(plotB, xB(0), yB(fitIntercepts[i]), xB(35), yB(fitSlopes[i] * 35 + fitIntercepts[i]), fitColors[i], 3.4);
  
  
});

frame(panelB, 1425, 2033, 31, 607, vcdTicksB, vcdTicksB, xB, yB);
vcdTicksB.forEach(t => {
  const lx = tickText(panelB, xB(t), 628, "middle", String(t));
  
  
  const ly = tickText(panelB, 1418, yB(t) + 6.5, "end", String(t));
  
  
});

// ---------- legend handles, panel a ----------
const legendRowNames = ["nasa", "nasa-corr", "knmi", "maxdoas"];
const legendKinds = ["circle", "diamond", "triangle", "square"];
const legendColors = [BLUE, GREEN, GRAY, RED];
legendKinds.forEach((kind, i) => {
  const rowY = 61 + i * 33;
  const dailyHandle = errorGlyph(legendHandles, kind, legendColors[i], 584, rowY, 0, 11);
  
  
  const monthly = make("g", legendHandles);
  
  
  segment(monthly, 926, rowY, 972, rowY, legendColors[i], 2);
  segment(monthly, 949, rowY - 11, 949, rowY + 11, legendColors[i], 1.5);
  segment(monthly, 945, rowY - 11, 953, rowY - 11, legendColors[i], 1.5);
  segment(monthly, 945, rowY + 11, 953, rowY + 11, legendColors[i], 1.5);
  marker(monthly, kind, 949, rowY, 19, legendColors[i], "#111");
});
</script>
</body>
</html>
